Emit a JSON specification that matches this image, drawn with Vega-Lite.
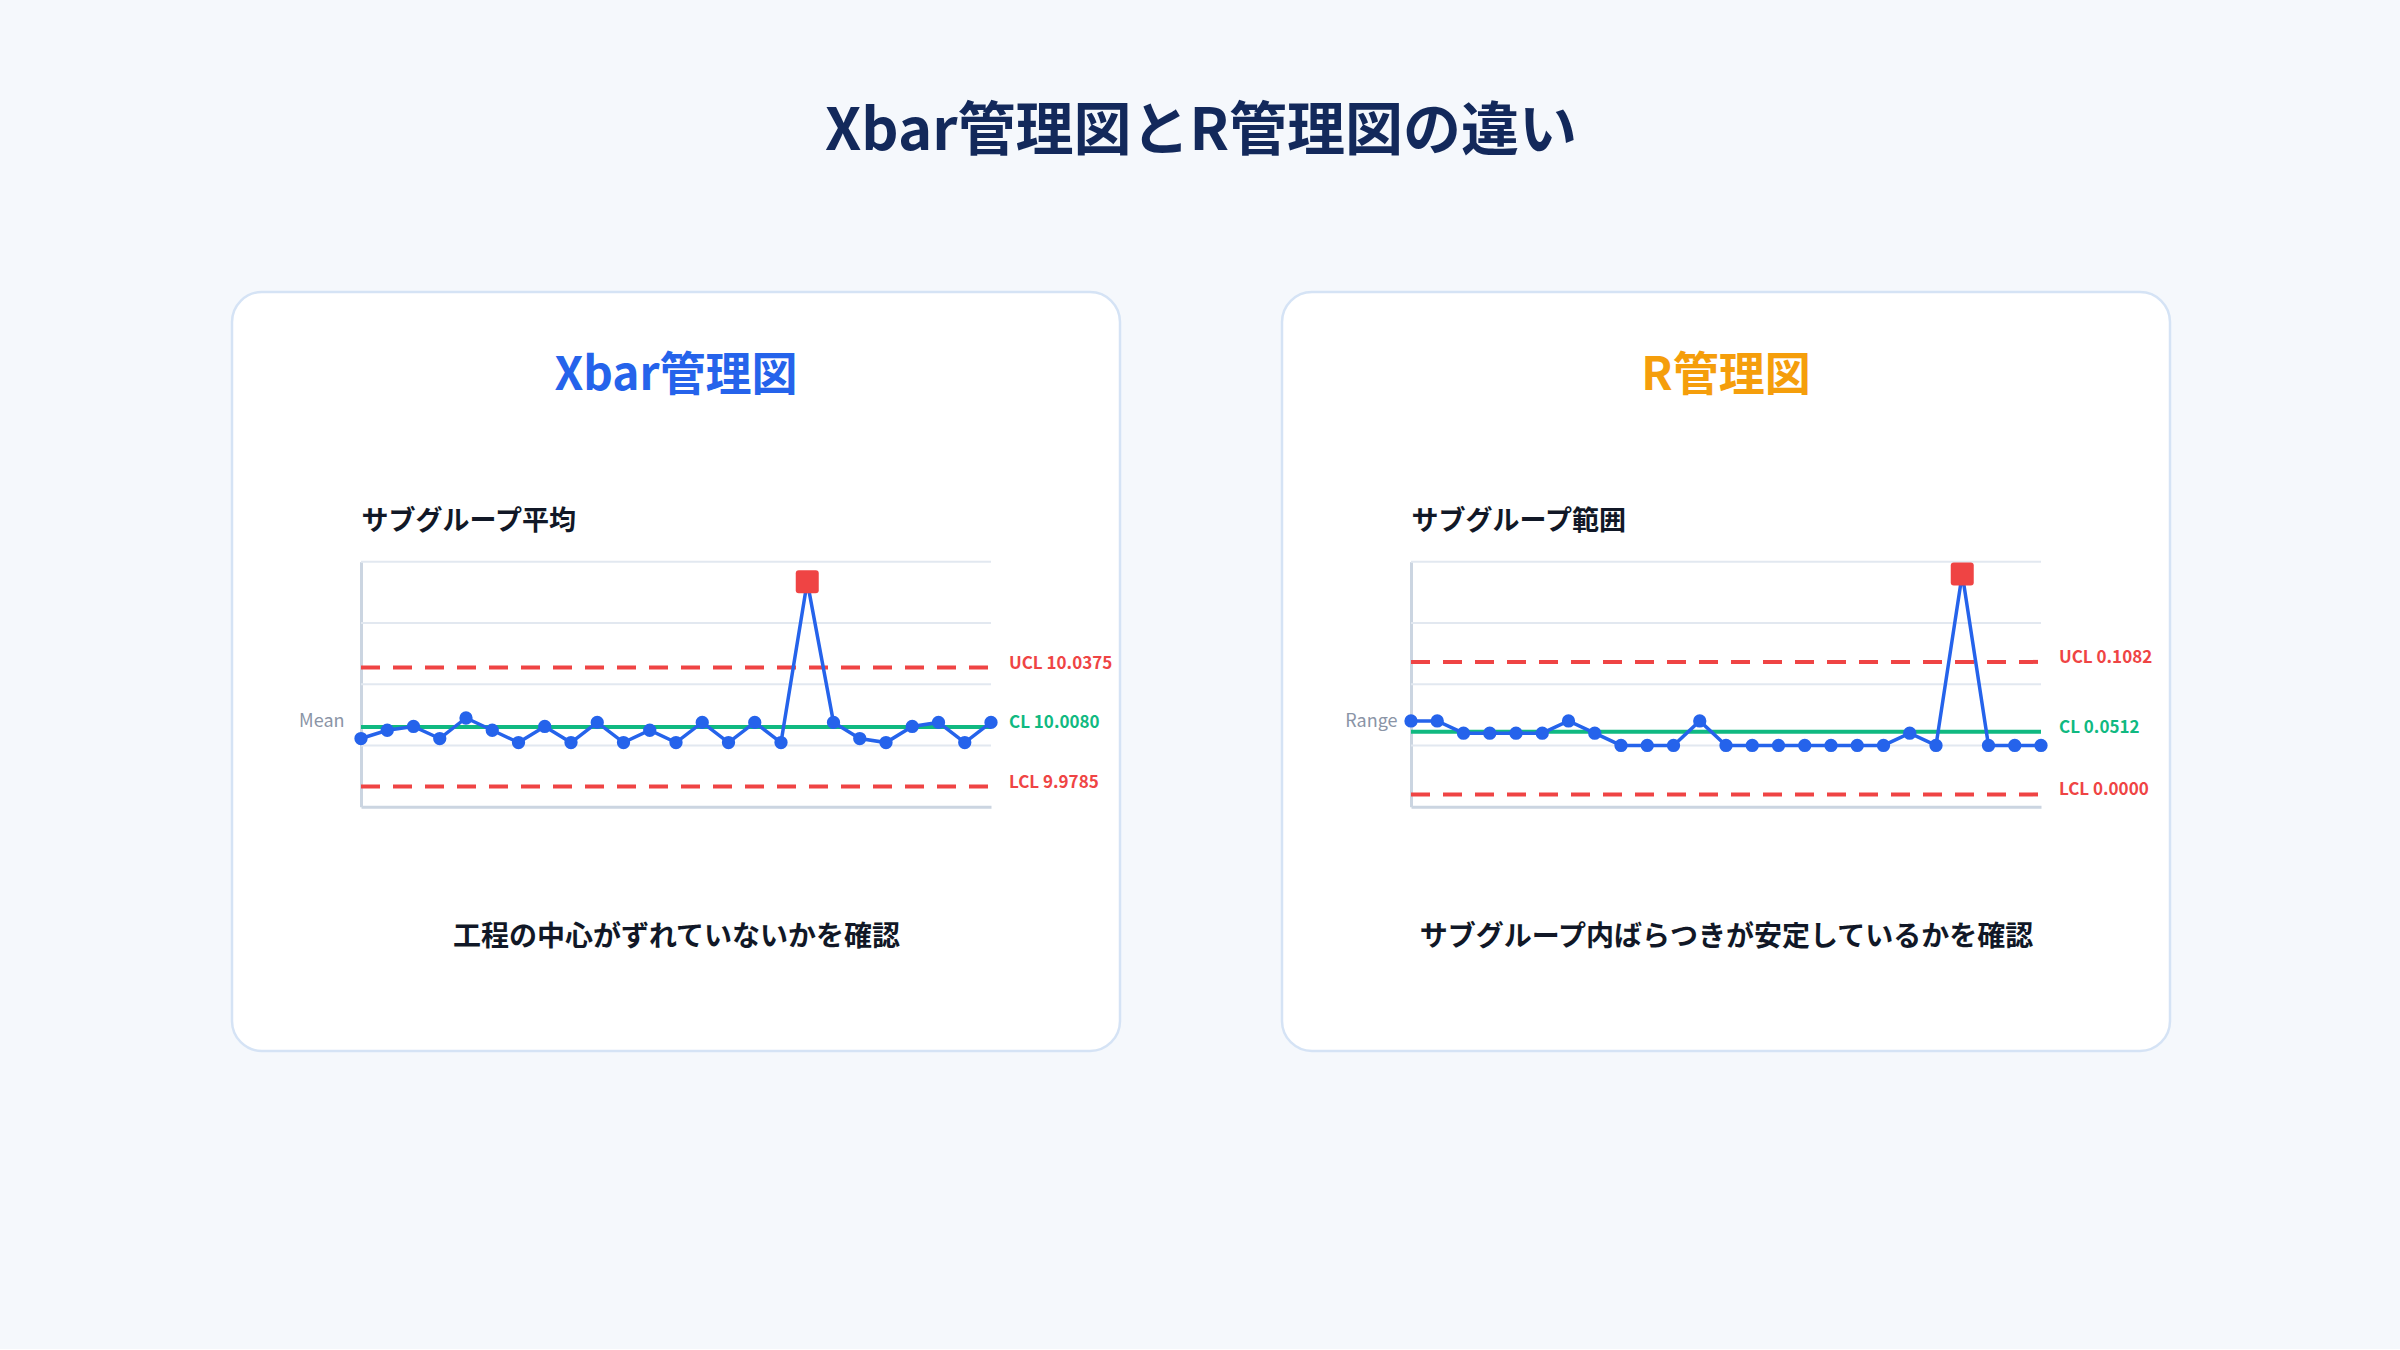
{
  "$schema": "https://vega.github.io/schema/vega-lite/v6.json",
  "background": "#f5f8fc",
  "padding": {"left": 230, "top": 103, "right": 230, "bottom": 296},
  "title": {"text": "Xbar管理図とR管理図の違い", "fontSize": 58, "fontWeight": "bold", "color": "#13295b", "anchor": "middle", "offset": 129},
  "datasets": {
    "xbar": [
      {"i": 1, "v": 10.0023}, {"i": 2, "v": 10.0064}, {"i": 3, "v": 10.0083}, {"i": 4, "v": 10.0023}, {"i": 5, "v": 10.0125},
      {"i": 6, "v": 10.0064}, {"i": 7, "v": 10.0003}, {"i": 8, "v": 10.0083}, {"i": 9, "v": 10.0003}, {"i": 10, "v": 10.0103},
      {"i": 11, "v": 10.0003}, {"i": 12, "v": 10.0064}, {"i": 13, "v": 10.0003}, {"i": 14, "v": 10.0103}, {"i": 15, "v": 10.0003},
      {"i": 16, "v": 10.0103}, {"i": 17, "v": 10.0003}, {"i": 18, "v": 10.0801}, {"i": 19, "v": 10.0103}, {"i": 20, "v": 10.0023},
      {"i": 21, "v": 10.0003}, {"i": 22, "v": 10.0083}, {"i": 23, "v": 10.0103}, {"i": 24, "v": 10.0003}, {"i": 25, "v": 10.0103}
    ],
    "range": [
      {"i": 1, "v": 0.06}, {"i": 2, "v": 0.06}, {"i": 3, "v": 0.05}, {"i": 4, "v": 0.05}, {"i": 5, "v": 0.05},
      {"i": 6, "v": 0.05}, {"i": 7, "v": 0.06}, {"i": 8, "v": 0.05}, {"i": 9, "v": 0.04}, {"i": 10, "v": 0.04},
      {"i": 11, "v": 0.04}, {"i": 12, "v": 0.06}, {"i": 13, "v": 0.04}, {"i": 14, "v": 0.04}, {"i": 15, "v": 0.04},
      {"i": 16, "v": 0.04}, {"i": 17, "v": 0.04}, {"i": 18, "v": 0.04}, {"i": 19, "v": 0.04}, {"i": 20, "v": 0.05},
      {"i": 21, "v": 0.04}, {"i": 22, "v": 0.18}, {"i": 23, "v": 0.04}, {"i": 24, "v": 0.04}, {"i": 25, "v": 0.04}
    ],
    "xbarLimits": [
      {"kind": "UCL", "v": 10.0375, "label": "UCL 10.0375"},
      {"kind": "CL", "v": 10.008, "label": "CL 10.0080"},
      {"kind": "LCL", "v": 9.9785, "label": "LCL 9.9785"}
    ],
    "rangeLimits": [
      {"kind": "UCL", "v": 0.1082, "label": "UCL 0.1082"},
      {"kind": "CL", "v": 0.0512, "label": "CL 0.0512"},
      {"kind": "LCL", "v": 0.0, "label": "LCL 0.0000"}
    ],
    "xbarGrid": [{"g": 9.998875}, {"g": 10.02925}, {"g": 10.059625}, {"g": 10.09}],
    "rangeGrid": [{"g": 0.04}, {"g": 0.09}, {"g": 0.14}, {"g": 0.19}]
  },
  "hconcat": [
    {
      "width": 888, "height": 759,
      "view": {"fill": "#ffffff", "stroke": "#d5e3f5", "strokeWidth": 2.5, "cornerRadius": 30},
      "title": {"text": "Xbar管理図", "color": "#2563eb", "fontSize": 46, "fontWeight": "bold", "anchor": "middle", "frame": "group", "offset": -108},
      "resolve": {"axis": {"x": "independent"}},
      "layer": [
        {
          "data": {"name": "xbarGrid"},
          "mark": {"type": "rule", "color": "#e2e8f0", "strokeWidth": 2},
          "encoding": {
            "y": {"field": "g", "type": "quantitative",
              "scale": {"domain": [9.9685, 10.09], "range": [514.7, 269.7], "zero": false, "nice": false},
              "axis": {"orient": "left", "offset": -129, "title": "Mean", "titleAngle": 0, "titleAlign": "right", "titleBaseline": "middle", "titleX": -17, "titleY": 429, "titleFontSize": 18, "titleFontWeight": "normal", "titleColor": "#8a94a6"}},
            "x": {"datum": 1, "type": "quantitative", "scale": {"domain": [1, 25], "range": [129, 759], "zero": false, "nice": false}, "axis": null},
            "x2": {"datum": 25}
          }
        },
        {
          "data": {"name": "xbarLimits"},
          "transform": [{"filter": "datum.kind !== 'CL'"}],
          "mark": {"type": "rule", "color": "#ef4444", "strokeWidth": 4, "strokeDash": [19, 13]},
          "encoding": {
            "y": {"field": "v", "type": "quantitative"},
            "x": {"datum": 1, "type": "quantitative", "axis": null},
            "x2": {"datum": 25}
          }
        },
        {
          "data": {"name": "xbarLimits"},
          "transform": [{"filter": "datum.kind === 'CL'"}],
          "mark": {"type": "rule", "color": "#10b981", "strokeWidth": 4},
          "encoding": {
            "y": {"field": "v", "type": "quantitative"},
            "x": {"datum": 1, "type": "quantitative", "axis": null},
            "x2": {"datum": 25}
          }
        },
        {
          "data": {"name": "xbarLimits"},
          "mark": {"type": "text", "align": "left", "baseline": "middle", "dx": 18, "dy": -4, "fontSize": 17, "fontWeight": "bold"},
          "encoding": {
            "y": {"field": "v", "type": "quantitative"},
            "x": {"datum": 25, "type": "quantitative", "axis": null},
            "text": {"field": "label"},
            "color": {"condition": {"test": "datum.kind === 'CL'", "value": "#10b981"}, "value": "#ef4444"}
          }
        },
        {
          "data": {"name": "xbar"},
          "mark": {"type": "line", "color": "#2563eb", "strokeWidth": 3.5},
          "encoding": {
            "x": {"field": "i", "type": "quantitative",
              "axis": {"orient": "bottom", "offset": -244.3, "domain": true, "title": "工程の中心がずれていないかを確認", "titleAngle": 0, "titleAlign": "center", "titleBaseline": "middle", "titleX": 444, "titleY": 131, "titleFontSize": 28, "titleFontWeight": "bold", "titleColor": "#111827"}},
            "y": {"field": "v", "type": "quantitative"}
          }
        },
        {
          "data": {"name": "xbar"},
          "transform": [{"filter": "datum.v <= 10.0375"}],
          "mark": {"type": "point", "shape": "circle", "filled": true, "color": "#2563eb", "size": 177, "opacity": 1},
          "encoding": {
            "x": {"field": "i", "type": "quantitative",
              "axis": {"orient": "top", "offset": -269.7, "domain": false, "title": "サブグループ平均", "titleAngle": 0, "titleAlign": "left", "titleBaseline": "middle", "titleX": 129, "titleY": -40, "titleFontSize": 27, "titleFontWeight": "bold", "titleColor": "#111827"}},
            "y": {"field": "v", "type": "quantitative"}
          }
        },
        {
          "data": {"name": "xbar"},
          "transform": [{"filter": "datum.v > 10.0375"}],
          "mark": {"type": "point", "shape": "M -0.74 -1 L 0.74 -1 Q 1 -1 1 -0.74 L 1 0.74 Q 1 1 0.74 1 L -0.74 1 Q -1 1 -1 0.74 L -1 -0.74 Q -1 -1 -0.74 -1 Z", "filled": true, "color": "#ef4444", "size": 529, "opacity": 1},
          "encoding": {
            "x": {"field": "i", "type": "quantitative", "axis": null},
            "y": {"field": "v", "type": "quantitative"}
          }
        }
      ]
    },
    {
      "width": 888, "height": 759,
      "view": {"fill": "#ffffff", "stroke": "#d5e3f5", "strokeWidth": 2.5, "cornerRadius": 30},
      "title": {"text": "R管理図", "color": "#f59e0b", "fontSize": 46, "fontWeight": "bold", "anchor": "middle", "frame": "group", "offset": -108},
      "resolve": {"axis": {"x": "independent"}},
      "layer": [
        {
          "data": {"name": "rangeGrid"},
          "mark": {"type": "rule", "color": "#e2e8f0", "strokeWidth": 2},
          "encoding": {
            "y": {"field": "g", "type": "quantitative",
              "scale": {"domain": [-0.01, 0.19], "range": [514.7, 269.7], "zero": false, "nice": false},
              "axis": {"orient": "left", "offset": -129, "title": "Range", "titleAngle": 0, "titleAlign": "right", "titleBaseline": "middle", "titleX": -14, "titleY": 429, "titleFontSize": 18, "titleFontWeight": "normal", "titleColor": "#8a94a6"}},
            "x": {"datum": 1, "type": "quantitative", "scale": {"domain": [1, 25], "range": [129, 759], "zero": false, "nice": false}, "axis": null},
            "x2": {"datum": 25}
          }
        },
        {
          "data": {"name": "rangeLimits"},
          "transform": [{"filter": "datum.kind !== 'CL'"}],
          "mark": {"type": "rule", "color": "#ef4444", "strokeWidth": 4, "strokeDash": [19, 13]},
          "encoding": {
            "y": {"field": "v", "type": "quantitative"},
            "x": {"datum": 1, "type": "quantitative", "axis": null},
            "x2": {"datum": 25}
          }
        },
        {
          "data": {"name": "rangeLimits"},
          "transform": [{"filter": "datum.kind === 'CL'"}],
          "mark": {"type": "rule", "color": "#10b981", "strokeWidth": 4},
          "encoding": {
            "y": {"field": "v", "type": "quantitative"},
            "x": {"datum": 1, "type": "quantitative", "axis": null},
            "x2": {"datum": 25}
          }
        },
        {
          "data": {"name": "rangeLimits"},
          "mark": {"type": "text", "align": "left", "baseline": "middle", "dx": 18, "dy": -4, "fontSize": 17, "fontWeight": "bold"},
          "encoding": {
            "y": {"field": "v", "type": "quantitative"},
            "x": {"datum": 25, "type": "quantitative", "axis": null},
            "text": {"field": "label"},
            "color": {"condition": {"test": "datum.kind === 'CL'", "value": "#10b981"}, "value": "#ef4444"}
          }
        },
        {
          "data": {"name": "range"},
          "mark": {"type": "line", "color": "#2563eb", "strokeWidth": 3.5},
          "encoding": {
            "x": {"field": "i", "type": "quantitative",
              "axis": {"orient": "bottom", "offset": -244.3, "domain": true, "title": "サブグループ内ばらつきが安定しているかを確認", "titleAngle": 0, "titleAlign": "center", "titleBaseline": "middle", "titleX": 444, "titleY": 131, "titleFontSize": 28, "titleFontWeight": "bold", "titleColor": "#111827"}},
            "y": {"field": "v", "type": "quantitative"}
          }
        },
        {
          "data": {"name": "range"},
          "transform": [{"filter": "datum.v <= 0.1082"}],
          "mark": {"type": "point", "shape": "circle", "filled": true, "color": "#2563eb", "size": 177, "opacity": 1},
          "encoding": {
            "x": {"field": "i", "type": "quantitative",
              "axis": {"orient": "top", "offset": -269.7, "domain": false, "title": "サブグループ範囲", "titleAngle": 0, "titleAlign": "left", "titleBaseline": "middle", "titleX": 129, "titleY": -40, "titleFontSize": 27, "titleFontWeight": "bold", "titleColor": "#111827"}},
            "y": {"field": "v", "type": "quantitative"}
          }
        },
        {
          "data": {"name": "range"},
          "transform": [{"filter": "datum.v > 0.1082"}],
          "mark": {"type": "point", "shape": "M -0.74 -1 L 0.74 -1 Q 1 -1 1 -0.74 L 1 0.74 Q 1 1 0.74 1 L -0.74 1 Q -1 1 -1 0.74 L -1 -0.74 Q -1 -1 -0.74 -1 Z", "filled": true, "color": "#ef4444", "size": 529, "opacity": 1},
          "encoding": {
            "x": {"field": "i", "type": "quantitative", "axis": null},
            "y": {"field": "v", "type": "quantitative"}
          }
        }
      ]
    }
  ],
  "spacing": 162,
  "bounds": "flush",
  "config": {
    "font": "Noto Sans CJK JP",
    "axis": {"labels": false, "ticks": false, "grid": false, "domainColor": "#cbd5e1", "domainWidth": 3}
  }
}
